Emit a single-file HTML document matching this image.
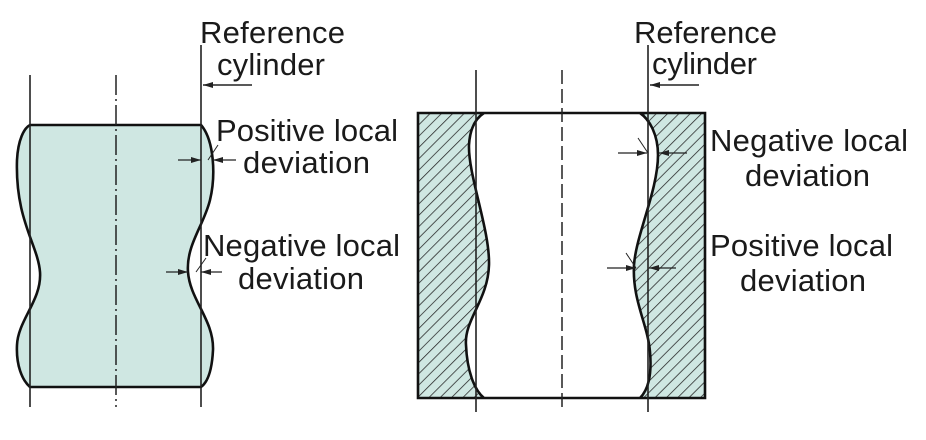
<!DOCTYPE html>
<html><head><meta charset="utf-8"><style>
html,body{margin:0;padding:0;background:#fff;}
svg{display:block;}
text{font-family:"Liberation Sans",sans-serif;font-size:31px;fill:#1a1a1a;}
</style></head><body>
<svg width="926" height="440" viewBox="0 0 926 440">
<defs>
<pattern id="h" patternUnits="userSpaceOnUse" width="8" height="8" patternTransform="rotate(45)">
<rect width="8" height="8" fill="#cfe7e2"/>
<line x1="0" y1="0" x2="0" y2="8" stroke="#222" stroke-width="1.5"/>
</pattern>
<marker id="a" markerWidth="10" markerHeight="6" refX="10" refY="3" orient="auto" markerUnits="userSpaceOnUse">
<path d="M0,0 L10,3 L0,6 Z" fill="#222"/>
</marker>
</defs>
<!-- LEFT -->
<path d="M30,125 L201,125 C214,140 216,175 210,200 C204,225 186,245 188,272 C190,300 214,320 213,350 C212,370 208,382 201,387 L30,387 C22,380 16,365 17,345 C18,320 42,300 40,272 C38,245 15,220 17,160 C18,140 24,128 30,125 Z" fill="#cfe7e2" stroke="#111" stroke-width="2.6"/>
<line x1="30" y1="75" x2="30" y2="407" stroke="#222" stroke-width="1.6"/>
<line x1="201" y1="45" x2="201" y2="407" stroke="#222" stroke-width="1.6"/>
<line x1="116" y1="75" x2="116" y2="407" stroke="#222" stroke-width="1.5" stroke-dasharray="20,4,2,4"/>
<line x1="252" y1="85" x2="203" y2="85" stroke="#222" stroke-width="1.5" marker-end="url(#a)"/>
<line x1="178" y1="160" x2="201" y2="160" stroke="#222" stroke-width="1.3" marker-end="url(#a)"/>
<line x1="236" y1="160" x2="213" y2="160" stroke="#222" stroke-width="1.3" marker-end="url(#a)"/>
<line x1="208" y1="160" x2="218" y2="145" stroke="#222" stroke-width="1"/>
<line x1="166" y1="272" x2="188" y2="272" stroke="#222" stroke-width="1.3" marker-end="url(#a)"/>
<line x1="222" y1="272" x2="201" y2="272" stroke="#222" stroke-width="1.3" marker-end="url(#a)"/>
<line x1="196" y1="272" x2="206" y2="258" stroke="#222" stroke-width="1"/>
<text x="200" y="43" textLength="145">Reference</text>
<text x="217" y="75" textLength="108">cylinder</text>
<text x="216" y="141" textLength="182">Positive local</text>
<text x="243" y="173" textLength="127">deviation</text>
<text x="203" y="256" textLength="197">Negative local</text>
<text x="238" y="289" textLength="126">deviation</text>
<!-- RIGHT -->
<path fill-rule="evenodd" d="M418,113 L705,113 L705,398 L418,398 Z M484,113 C476,118 470,128 469,145 C468,175 490,230 489,265 C488,300 464,320 466,345 C467,370 474,390 484,398 L640,398 C648,390 652,375 650,352 C648,325 632,300 634,265 C636,235 658,190 658,155 C658,135 650,120 640,113 Z" fill="url(#h)" stroke="#111" stroke-width="2.6"/>
<line x1="476" y1="70" x2="476" y2="412" stroke="#222" stroke-width="1.6"/>
<line x1="648" y1="45" x2="648" y2="412" stroke="#222" stroke-width="1.6"/>
<line x1="562" y1="70" x2="562" y2="412" stroke="#222" stroke-width="1.5" stroke-dasharray="14,5"/>
<line x1="699" y1="85" x2="650" y2="85" stroke="#222" stroke-width="1.5" marker-end="url(#a)"/>
<line x1="618" y1="153" x2="647" y2="153" stroke="#222" stroke-width="1.3" marker-end="url(#a)"/>
<line x1="687" y1="153" x2="659" y2="153" stroke="#222" stroke-width="1.3" marker-end="url(#a)"/>
<line x1="648" y1="153" x2="638" y2="138" stroke="#222" stroke-width="1"/>
<line x1="607" y1="268" x2="636" y2="268" stroke="#222" stroke-width="1.3" marker-end="url(#a)"/>
<line x1="676" y1="268" x2="649" y2="268" stroke="#222" stroke-width="1.3" marker-end="url(#a)"/>
<line x1="636" y1="268" x2="626" y2="253" stroke="#222" stroke-width="1"/>
<text x="634" y="43" textLength="143">Reference</text>
<text x="652" y="74" textLength="105">cylinder</text>
<text x="710" y="151" textLength="198">Negative local</text>
<text x="745" y="186" textLength="125">deviation</text>
<text x="710" y="256" textLength="183">Positive local</text>
<text x="740" y="291" textLength="126">deviation</text>
</svg>
</body></html>
